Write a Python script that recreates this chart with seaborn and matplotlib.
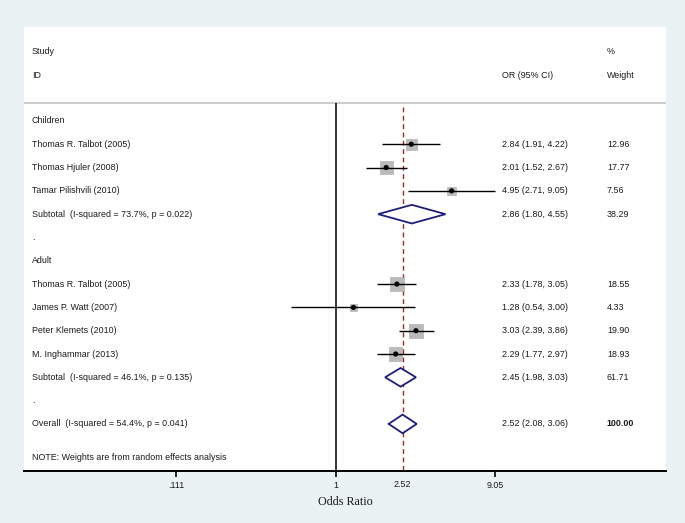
import numpy as np
import pandas as pd
import matplotlib
matplotlib.use("Agg")
from matplotlib import pyplot as plt

import seaborn as sns
sns.set_theme(style="white")
plt.rcParams["font.family"] = ["Liberation Sans", "DejaVu Sans"]


GROUPS = ["Children", "Adult"]
study_group = ["Children", "Children", "Children", "Adult", "Adult", "Adult", "Adult"]
study_name = ["Thomas R. Talbot (2005)", "Thomas Hjuler (2008)", "Tamar Pilishvili (2010)",
              "Thomas R. Talbot (2005)", "James P. Watt (2007)", "Peter Klemets (2010)",
              "M. Inghammar (2013)"]
study_or = [2.84, 2.01, 4.95, 2.33, 1.28, 3.03, 2.29]
study_lo = [1.91, 1.52, 2.71, 1.78, 0.54, 2.39, 1.77]
study_hi = [4.22, 2.67, 9.05, 3.05, 3.00, 3.86, 2.97]
study_weight = [12.96, 17.77, 7.56, 18.55, 4.33, 19.90, 18.93]

subtotal_label = ["Subtotal  (I-squared = 73.7%, p = 0.022)",
                  "Subtotal  (I-squared = 46.1%, p = 0.135)"]
subtotal_or = [2.86, 2.45]
subtotal_lo = [1.80, 1.98]
subtotal_hi = [4.55, 3.03]
subtotal_weight = [38.29, 61.71]

overall_label = "Overall  (I-squared = 54.4%, p = 0.041)"
overall_or, overall_lo, overall_hi, overall_weight = 2.52, 2.08, 3.06, 100.00

tick_values = [0.111, 1, 9.05]
tick_labels = [".111", "1", "9.05"]

TEXT = "#1a1a1a"
BOX = "#bababa"
NAVY = "#1e1e7a"
RED = "#a3282d"
BG = "#eaf2f3"
FS = 6.4


def fmt_ci(est, lo, hi):
    return f"{est:.2f} ({lo:.2f}, {hi:.2f})"


def build_rows():
    studies, pooled, labels = [], [], []
    r = 0
    for g_i, g in enumerate(GROUPS):
        labels.append((r, g))
        r += 1
        for i, grp in enumerate(study_group):
            if grp == g:
                studies.append(dict(row=r, name=study_name[i], est=study_or[i], lo=study_lo[i],
                                    hi=study_hi[i], weight=study_weight[i]))
                r += 1
        pooled.append(dict(row=r, name=subtotal_label[g_i], est=subtotal_or[g_i],
                           lo=subtotal_lo[g_i], hi=subtotal_hi[g_i], weight=subtotal_weight[g_i]))
        r += 1
        labels.append((r, "."))
        r += 1
    pooled.append(dict(row=r, name=overall_label, est=overall_or, lo=overall_lo,
                       hi=overall_hi, weight=overall_weight))
    return pd.DataFrame(studies), pd.DataFrame(pooled), labels, r


def plot_data():
    studies, pooled, labels, last = build_rows()

    fig = plt.figure(figsize=(6.85, 5.23), dpi=100, facecolor=BG)
    ax = fig.add_axes([0.035, 0.0994, 0.9372, 0.849])
    ax.set_facecolor("white")
    ax.set_xscale("log")
    ax.set_xlim(0.01369, 94.8)
    ax.set_ylim(last + 2.02, -4.03)

    head_y = -0.77
    ax.axhline(head_y, color="#c4c4c4", lw=1.2, zorder=1)
    ax.vlines(1, head_y, last + 2.02, color="black", lw=1.1, zorder=1)
    ax.vlines(overall_or, -0.6, last + 2.02, color=RED, lw=1.0, linestyles=(0, (3.5, 2.5)), zorder=1)

    # weight boxes, area proportional to weight
    sns.scatterplot(data=studies, x="est", y="row", size="weight", size_norm=(0, 20),
                    sizes=(0, 100), marker="s", color=BOX, edgecolor="#a9a9a9", linewidth=0.4,
                    legend=False, ax=ax, zorder=2)
    ax.hlines(studies["row"], studies["lo"], studies["hi"], color="black", lw=1.0, zorder=3)
    sns.scatterplot(data=studies, x="est", y="row", color="black", s=14, marker="o",
                    edgecolor="none", legend=False, ax=ax, zorder=4)

    for _, p in pooled.iterrows():
        xs = [p["lo"], p["est"], p["hi"], p["est"]]
        ys = [p["row"], p["row"] - 0.4, p["row"], p["row"] + 0.4]
        ax.fill(xs, ys, facecolor="white", edgecolor=NAVY, lw=1.3, zorder=3)

    tr = ax.get_yaxis_transform()
    x_lab, x_or, x_w = 0.0125, 0.7445, 0.908
    ax.text(x_lab, -2.96, "Study", transform=tr, fontsize=FS, color=TEXT, va="center")
    ax.text(x_lab, -1.97, "ID", transform=tr, fontsize=FS, color=TEXT, va="center")
    ax.text(x_or, -1.97, "OR (95% CI)", transform=tr, fontsize=FS, color=TEXT, va="center")
    ax.text(x_w, -2.96, "%", transform=tr, fontsize=FS, color=TEXT, va="center")
    ax.text(x_w, -1.97, "Weight", transform=tr, fontsize=FS, color=TEXT, va="center")

    for r, t in labels:
        ax.text(x_lab, r, t, transform=tr, fontsize=FS, color=TEXT, va="center")
    for df in (studies, pooled):
        for _, p in df.iterrows():
            bold = p["weight"] >= 100
            ax.text(x_lab, p["row"], p["name"], transform=tr, fontsize=FS, color=TEXT, va="center")
            ax.text(x_or, p["row"], fmt_ci(p["est"], p["lo"], p["hi"]), transform=tr,
                    fontsize=FS, color=TEXT, va="center")
            ax.text(x_w, p["row"], f"{p['weight']:.2f}", transform=tr, fontsize=FS, color=TEXT,
                    va="center", fontweight="bold" if bold else "normal")
    ax.text(x_lab, last + 1.46, "NOTE: Weights are from random effects analysis", transform=tr,
            fontsize=FS, color=TEXT, va="center")

    for side in ("top", "left", "right"):
        ax.spines[side].set_visible(False)
    ax.spines["bottom"].set_color("black")
    ax.spines["bottom"].set_linewidth(1.4)
    ax.set_yticks([])
    ax.set_ylabel("")
    ax.set_xticks(tick_values, tick_labels)
    ax.set_xticks([overall_or], [f"{overall_or:.2f}"], minor=True)
    ax.tick_params(axis="x", which="major", length=4.5, width=1.2, color="black", pad=3,
                   labelsize=FS, labelcolor=TEXT, bottom=True)
    ax.tick_params(axis="x", which="minor", length=0, pad=6.5, labelsize=FS, labelcolor=TEXT,
                   bottom=True)
    ax.set_xlabel("Odds Ratio", family=["Liberation Serif", "DejaVu Serif"], fontsize=8.7,
                  color=TEXT, labelpad=4)

    fig.savefig("out.png", dpi=100, facecolor=BG)


def main():
    plot_data()


if __name__ == "__main__":
    main()
